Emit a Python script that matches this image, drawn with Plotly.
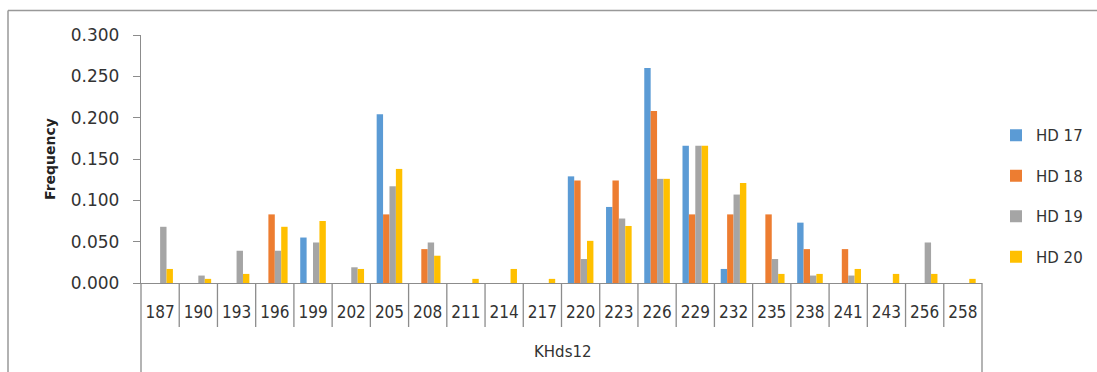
import plotly.graph_objects as go

# Allele sizes at locus KHds12 and their frequencies in each population
alleles = ["187", "190", "193", "196", "199", "202", "205", "208", "211", "214", "217",
           "220", "223", "226", "229", "232", "235", "238", "241", "243", "256", "258"]

hd17 = [0, 0, 0, 0, 0.055, 0, 0.204, 0, 0, 0, 0,
        0.129, 0.092, 0.260, 0.166, 0.017, 0, 0.073, 0, 0, 0, 0]
hd18 = [0, 0, 0, 0.083, 0, 0, 0.083, 0.041, 0, 0, 0,
        0.124, 0.124, 0.208, 0.083, 0.083, 0.083, 0.041, 0.041, 0, 0, 0]
hd19 = [0.068, 0.009, 0.039, 0.039, 0.049, 0.019, 0.117, 0.049, 0, 0, 0,
        0.029, 0.078, 0.126, 0.166, 0.107, 0.029, 0.009, 0.009, 0, 0.049, 0]
hd20 = [0.017, 0.005, 0.011, 0.068, 0.075, 0.017, 0.138, 0.033, 0.005, 0.017, 0.005,
        0.051, 0.069, 0.126, 0.166, 0.121, 0.011, 0.011, 0.017, 0.011, 0.011, 0.005]

series_names = ["HD 17", "HD 18", "HD 19", "HD 20"]
series_values = [hd17, hd18, hd19, hd20]
series_colors = ["#5B9BD5", "#ED7D31", "#A5A5A5", "#FFC000"]

# Page and plot-area geometry (pixels)
W, H = 1097, 372
L, R, T, B = 141, 115, 35, 89
PW, PH = W - L - R, H - T - B


def dx(px):
    """Horizontal pixel position -> x-domain fraction."""
    return (px - L) / PW


def dy(py):
    """Vertical pixel position -> y-domain fraction."""
    return 1 - (py - T) / PH


LINE = "#8C8C8C"
BASE_FONT = "DejaVu Sans"

fig = go.Figure()
for name, vals, col in zip(series_names, series_values, series_colors):
    fig.add_trace(go.Bar(x=alleles, y=vals, name=name, marker_color=col,
                         marker_line_width=0, legendgroup=name))

line_style = dict(color=LINE, width=1.3)
n_cat = len(alleles)
shapes = []
# short separators between the category labels
for i in range(1, n_cat):
    shapes.append(dict(type="line", xref="x domain", yref="y domain",
                       x0=i / n_cat, x1=i / n_cat, y0=dy(327), y1=0, line=line_style))
# outer edges of the category label box
for edge in (0, 1):
    shapes.append(dict(type="line", xref="x domain", yref="y domain",
                       x0=edge, x1=edge, y0=dy(H + 5), y1=0, line=line_style))
# chart frame
frame = dict(color="#999999", width=1.5)
shapes.append(dict(type="line", xref="x domain", yref="y domain", x0=dx(8), x1=dx(W + 5),
                   y0=dy(10.5), y1=dy(10.5), line=frame))
shapes.append(dict(type="line", xref="x domain", yref="y domain", x0=dx(8), x1=dx(8),
                   y0=dy(10.5), y1=dy(H + 5), line=frame))

annotations = [
    dict(text="<b>Frequency</b>", xref="x domain", yref="y domain", x=dx(50), y=dy(159),
         xanchor="center", yanchor="middle",
         textangle=-90, showarrow=False, font=dict(family=BASE_FONT, size=14, color="#222")),
    dict(text="KHds12", xref="x domain", yref="y domain", x=dx(563), y=dy(352),
         xanchor="center", yanchor="middle",
         showarrow=False, font=dict(family=BASE_FONT, size=15, color="#333")),
]

fig.update_layout(
    width=W, height=H, autosize=False,
    margin=dict(l=L, r=R, t=T, b=B, pad=0),
    paper_bgcolor="white", plot_bgcolor="white",
    barmode="group", bargap=0.33, bargroupgap=0,
    font=dict(family=BASE_FONT, color="#333"),
    showlegend=True,
    legend=dict(xref="container", yref="container",
                x=996 / W, y=1 - 119 / H, xanchor="left", yanchor="top",
                font=dict(family=BASE_FONT, size=15, color="#333"),
                tracegroupgap=18, bgcolor="rgba(0,0,0,0)"),
    shapes=shapes,
    annotations=annotations,
)

fig.update_xaxes(
    type="category", categoryorder="array", categoryarray=alleles,
    showline=True, linecolor=LINE, linewidth=1.3,
    showgrid=False, zeroline=False,
    ticks="", tickangle=0, ticklabelstandoff=13,
    tickfont=dict(family="Liberation Sans Narrow, DejaVu Sans Condensed, sans-serif",
                  size=17, color="#333"),
)

fig.update_yaxes(
    range=[0, 0.3], dtick=0.05, tickformat=".3f",
    showline=True, linecolor=LINE, linewidth=1.3,
    showgrid=False, zeroline=False,
    ticks="outside", ticklen=7, tickcolor=LINE, tickwidth=1.3,
    ticklabelstandoff=10,
    tickfont=dict(family=BASE_FONT, size=17, color="#333"),
)

fig.write_html("out.html")
